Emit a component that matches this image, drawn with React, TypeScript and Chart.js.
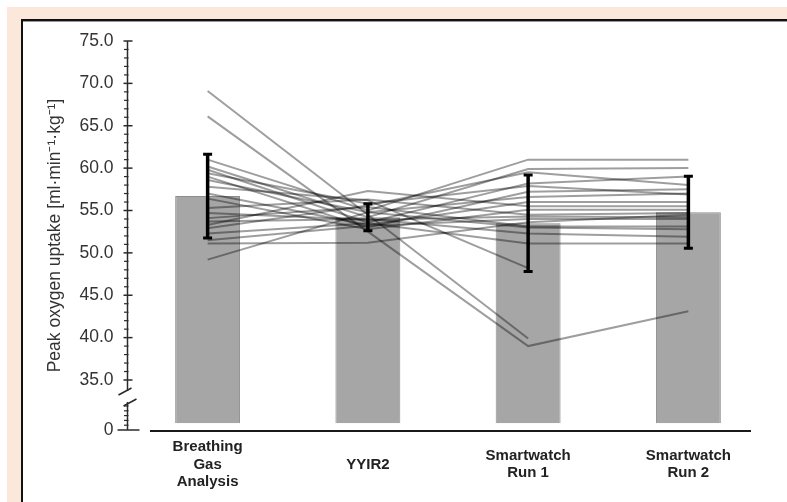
import React, { useEffect, useRef } from 'react';
import { Chart, registerables } from 'chart.js';

Chart.register(...registerables);

// ---- data ----
const categories: (string | string[])[] = [
  ['Breathing', 'Gas', 'Analysis'],
  'YYIR2',
  ['Smartwatch', 'Run 1'],
  ['Smartwatch', 'Run 2'],
];
const meanValues = [56.7, 54.2, 53.5, 54.8];
const sdValues = [4.95, 1.6, 5.7, 4.25];

// individual participants (one entry per participant in each array)
const breathingGas = [69.1, 66.1, 61.0, 60.2, 59.8, 59.4, 59.0, 58.6, 57.8, 57.0, 56.4, 55.3, 54.7, 54.1, 53.7, 53.3, 52.9, 52.3, 51.5, 51.1, 49.2];
const yyir2 = [54.5, 52.5, 55.0, 54.2, 53.6, 55.8, 53.0, 54.8, 56.2, 53.3, 52.8, 56.3, 53.9, 55.4, 54.0, 57.3, 55.6, 53.5, 53.2, 51.2, 54.8];
const smartwatchRun1 = [39.9, 39.0, 61.0, 59.9, 58.2, 57.9, 57.2, 56.6, 48.2, 56.0, 55.1, 54.5, 54.3, 53.1, 52.3, 55.5, 59.5, 51.1, 54.0, 53.6, 53.0];
const smartwatchRun2: (number | null)[] = [null, 43.1, 61.0, 60.0, 59.0, 56.9, 57.5, 57.0, null, 56.0, 55.1, 54.7, 54.2, 53.1, 51.9, 55.5, 58.0, 51.1, 54.0, 54.5, 52.8];

const majorTicks = [35, 40, 45, 50, 55, 60, 65, 70, 75];
const zeroTickValue = 29.1; // position of the "0" label below the axis break
const barBase = 29.9;
const axisTop = 75;

const errorBarPlugin = {
  id: 'errorBars',
  afterDatasetsDraw(chart: any) {
    const { ctx, scales } = chart;
    const x = scales.x;
    const y = scales.y;
    ctx.save();
    ctx.strokeStyle = '#000';
    meanValues.forEach((m, i) => {
      const px = x.getPixelForValue(i);
      const top = y.getPixelForValue(m + sdValues[i]);
      const bot = y.getPixelForValue(m - sdValues[i]);
      ctx.lineWidth = 3.5;
      ctx.beginPath();
      ctx.moveTo(px, top);
      ctx.lineTo(px, bot);
      ctx.stroke();
      ctx.lineWidth = 3;
      ctx.beginPath();
      ctx.moveTo(px - 4.5, top);
      ctx.lineTo(px + 4.5, top);
      ctx.moveTo(px - 4.5, bot);
      ctx.lineTo(px + 4.5, bot);
      ctx.stroke();
    });
    ctx.restore();
  },
};

const brokenAxisPlugin = {
  id: 'brokenAxis',
  afterDraw(chart: any) {
    const { ctx, scales, chartArea } = chart;
    const y = scales.y;
    const ax = chartArea.left;
    const yTop = y.getPixelForValue(axisTop);
    const y35 = y.getPixelForValue(35);
    const y0 = y.getPixelForValue(zeroTickValue);
    const seg = (x1: number, y1: number, x2: number, y2: number) => {
      ctx.beginPath();
      ctx.moveTo(x1, y1);
      ctx.lineTo(x2, y2);
      ctx.stroke();
    };
    ctx.save();
    ctx.strokeStyle = '#2a2a2a';
    ctx.lineWidth = 1.5;
    // axis segments
    seg(ax, yTop, ax, y35 + 11);
    seg(ax, y35 + 22, ax, y0);
    // major ticks
    majorTicks.forEach((v) => {
      const py = y.getPixelForValue(v);
      seg(ax - 4, py, ax + 5, py);
    });
    // minor ticks
    ctx.lineWidth = 1.2;
    for (let v = 36; v < 75; v++) {
      if (v % 5 === 0) continue;
      const py = y.getPixelForValue(v);
      seg(ax - 3.5, py, ax + 1, py);
    }
    for (let k = 1; k <= 5; k++) {
      const py = y0 - k * 4.8;
      seg(ax - 3.5, py, ax + 1, py);
    }
    // zero tick
    ctx.lineWidth = 1.5;
    seg(ax - 10, y0, ax + 12, y0);
    // break slashes
    seg(ax - 9, y35 + 15, ax + 4, y35 + 8);
    seg(ax - 4, y35 + 26, ax + 9, y35 + 19);
    // x axis line
    ctx.strokeStyle = '#1a1a1a';
    ctx.lineWidth = 2;
    seg(ax + 22.5, y0 + 1, chartArea.right - 17.5, y0 + 1);
    ctx.restore();
  },
};

export default function App() {
  const canvasRef = useRef<HTMLCanvasElement | null>(null);

  useEffect(() => {
    const canvas = canvasRef.current;
    if (!canvas) return;

    const lineDatasets = breathingGas.map((b, i) => ({
      type: 'line' as const,
      label: 'P' + (i + 1),
      data: [b, yyir2[i], smartwatchRun1[i], smartwatchRun2[i]],
      borderColor: 'rgba(0,0,0,0.38)',
      borderWidth: 2,
      pointRadius: 0,
      tension: 0,
      fill: false,
      spanGaps: false,
      order: 0,
    }));

    const chart = new Chart(canvas, {
      type: 'bar',
      data: {
        labels: categories as any,
        datasets: [
          {
            type: 'bar' as const,
            label: 'Mean',
            data: meanValues,
            base: barBase,
            backgroundColor: '#a6a6a6',
            borderColor: '#8c8c8c',
            borderWidth: 1,
            barPercentage: 0.405,
            categoryPercentage: 1,
            order: 10,
          } as any,
          ...lineDatasets,
        ],
      },
      options: {
        responsive: false,
        maintainAspectRatio: false,
        devicePixelRatio: 1,
        animation: false,
        layout: { padding: { left: 40, right: 18.5, top: 41, bottom: 0 } },
        plugins: {
          legend: { display: false },
          tooltip: { enabled: false },
        },
        scales: {
          x: {
            type: 'category',
            grid: { display: false, drawTicks: false },
            border: { display: false },
            ticks: {
              autoSkip: false,
              maxRotation: 0,
              minRotation: 0,
              padding: 17,
              crossAlign: 'center',
              color: '#222',
              font: { family: '"Liberation Sans", Arial, sans-serif', size: 15, weight: 'bold', lineHeight: 1.17 },
            },
            afterFit(scale: any) {
              scale.height = 72;
            },
          } as any,
          y: {
            type: 'linear',
            min: zeroTickValue,
            max: axisTop,
            grid: { display: false, drawTicks: false },
            border: { display: false },
            afterBuildTicks(scale: any) {
              scale.ticks = [zeroTickValue, ...majorTicks].map((v) => ({ value: v }));
            },
            afterFit(scale: any) {
              scale.width = 87.5;
            },
            ticks: {
              padding: 14,
              color: '#333',
              font: { family: '"Liberation Sans", Arial, sans-serif', size: 17.5 },
              callback: (v: any) => (Number(v) < 30 ? '0' : Number(v).toFixed(1)),
            },
            title: {
              display: true,
              text: 'Peak oxygen uptake [ml·min⁻¹·kg⁻¹]',
              color: '#333',
              padding: { top: 5, bottom: 0 },
              font: { family: '"Liberation Sans", Arial, sans-serif', size: 17.5 },
            },
          } as any,
        },
      },
      plugins: [errorBarPlugin, brokenAxisPlugin],
    });

    return () => chart.destroy();
  }, []);

  return (
    <div style={{ position: 'fixed', left: 0, top: 0, width: 787, height: 502, background: '#fff', overflow: 'hidden' }}>
      <div style={{ position: 'absolute', left: 7, top: 7, right: 0, bottom: 0, background: '#fbe8db' }} />
      <div
        style={{
          position: 'absolute',
          left: 21,
          top: 19,
          right: 0,
          bottom: 0,
          background: '#fff',
          borderLeft: '2px solid #111',
          borderTop: '2px solid #111',
          boxShadow: 'inset 0 1px 0 #999',
        }}
      />
      <canvas ref={canvasRef} width={787} height={502} style={{ position: 'absolute', left: 0, top: 0, width: 787, height: 502 }} />
    </div>
  );
}
